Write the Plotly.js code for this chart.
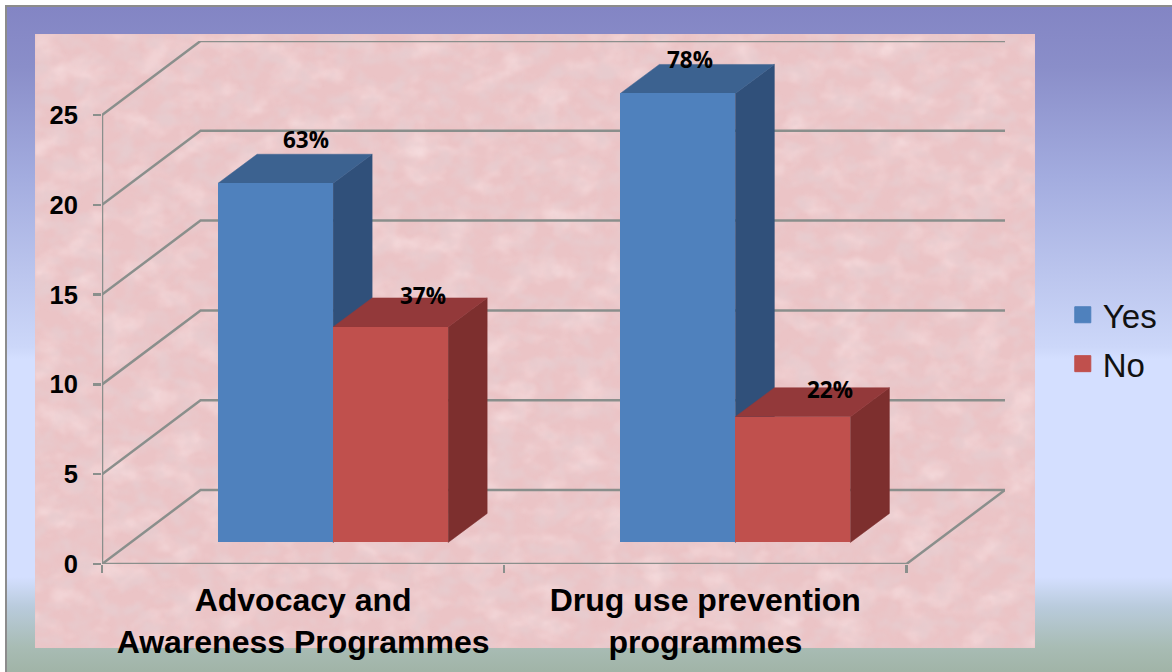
<!DOCTYPE html>
<html>
<head>
<meta charset="utf-8">
<script src="https://cdn.plot.ly/plotly-3.0.1.min.js"></script>
<style>
  html, body { margin: 0; padding: 0; background: #fff; width: 1172px; height: 672px; overflow: hidden; }
  #slide {
    position: absolute; left: 5px; top: 5px; width: 1167px; height: 667px; box-sizing: border-box;
    border-left: 2px solid #8c8c8c; border-top: 2px solid #8c8c8c;
    background: linear-gradient(to bottom,
      #8385c4 0px, #8a8ec9 60px, #a3acdf 170px, #bcc6ee 270px, #ccd7f9 340px, #d4dfff 352px,
      #d4dfff 570px, #b9cbdc 600px, #a8bcb4 640px, #a0b3a6 667px);
  }
  #panel { position: absolute; left: 35px; top: 34px; width: 1000px; height: 614px; display: block; }
  #chart { position: absolute; left: 0; top: 0; width: 1172px; height: 672px; }
</style>
</head>
<body>
<div id="slide"></div>
<svg id="panel" xmlns="http://www.w3.org/2000/svg">
  <filter id="marble" x="0" y="0" width="100%" height="100%">
    <feTurbulence type="fractalNoise" baseFrequency="0.03 0.04" numOctaves="5" seed="11"/>
    <feColorMatrix type="matrix" values="0 0 0 0 0.97  0 0 0 0 0.83  0 0 0 0 0.84  1.3 0 0 0 -0.6"/>
    <feGaussianBlur stdDeviation="0.9"/>
  </filter>
  <filter id="veins" x="0" y="0" width="100%" height="100%">
    <feTurbulence type="fractalNoise" baseFrequency="0.05 0.065" numOctaves="5" seed="4"/>
    <feColorMatrix type="matrix" values="0 0 0 0 0.80  0 0 0 0 0.60  0 0 0 0 0.62  0 2.6 0 0 -1.1"/>
    <feGaussianBlur stdDeviation="0.9"/>
  </filter>
  <rect width="1000" height="614" fill="#ebc4c6"/>
  <rect width="1000" height="614" filter="url(#marble)"/>
  <rect width="1000" height="614" filter="url(#veins)"/>
</svg>
<div id="chart"></div>
<script>
// Programme evaluation results, two answers per programme
const programmes = ['Advocacy and<br>Awareness Programmes', 'Drug use prevention<br>programmes'];
const seriesNames = ['Yes', 'No'];
const yesValues = [20, 25];
const noValues = [12, 7];
const yesLabels = ['63%', '78%'];
const noLabels = ['37%', '22%'];
const valueTicks = [0, 5, 10, 15, 20, 25];

// Colours of each box: front, top and side face
const faces = {
  Yes: { front: '#4f81bd', top: '#3c6290', side: '#30507a' },
  No:  { front: '#c0504d', top: '#93393a', side: '#7d2f2e' }
};
const gridColor = '#8a8f8c';

// Oblique projection of the box scene, in axis units
const wallDx = 0.245, wallDy = 4.12;
const barWidth = 0.286, barDx = 0.097, barDy = 1.615;
const liftDx = 0.0746, liftDy = 1.2;

const topValue = Math.max(...valueTicks);
const shapes = [];
const line = (pts) => 'M' + pts.map(p => p.join(',')).join('L');
const addLine = (pts) => shapes.push({
  type: 'path', xref: 'x', yref: 'y', layer: 'below', path: line(pts),
  line: { color: gridColor, width: 2.5 }, fillcolor: 'rgba(0,0,0,0)'
});
const addFace = (pts, color) => shapes.push({
  type: 'path', xref: 'x', yref: 'y', layer: 'below', path: line(pts) + 'Z',
  line: { color: color, width: 0.5 }, fillcolor: color
});

// Wall and floor lines, one for each value tick
const nCat = programmes.length;
valueTicks.forEach(v => addLine([[0, v], [wallDx, v + wallDy], [nCat + wallDx, v + wallDy]]));
addLine([[0, 0], [0, topValue]]);
addLine([[0, 0], [nCat, 0], [nCat + wallDx, wallDy]]);

// Front faces come from bar traces; the depth of each box is added as shapes under them
const series = [
  { name: seriesNames[0], values: yesValues, labels: yesLabels, side: -0.5, style: faces.Yes },
  { name: seriesNames[1], values: noValues, labels: noLabels, side: 0.5, style: faces.No }
];
const barCenter = (i, s) => i + 0.5 + liftDx + s.side * barWidth;
series.forEach(s => s.values.forEach((v, i) => {
  const x0 = barCenter(i, s) - barWidth / 2, x1 = x0 + barWidth, yTop = v + liftDy;
  addFace([[x1, liftDy], [x1 + barDx, liftDy + barDy], [x1 + barDx, yTop + barDy], [x1, yTop]], s.style.side);
  addFace([[x0, yTop], [x0 + barDx, yTop + barDy], [x1 + barDx, yTop + barDy], [x1, yTop]], s.style.top);
}));

const traces = [];
series.forEach(s => {
  traces.push({
    type: 'bar', name: s.name, legendgroup: s.name, showlegend: false,
    x: s.values.map((_, i) => barCenter(i, s)), y: s.values,
    base: s.values.map(() => liftDy), width: barWidth,
    marker: { color: s.style.front, line: { width: 0 } }, hoverinfo: 'skip'
  });
});
series.forEach(s => {
  traces.push({
    type: 'scatter', mode: 'markers', name: s.name, legendgroup: s.name, showlegend: true,
    x: [null], y: [null],
    marker: { symbol: 'square', size: 16, color: s.style.front, line: { color: s.style.front, width: 1 } }
  });
});

// Percentage labels sit by hand above each box: [right, up] in pixels
const labelOffsets = { Yes: [[30, 44], [12.5, 34]], No: [[32.5, 31], [37.5, 27]] };
const annotations = [];
series.forEach(s => s.values.forEach((v, i) => {
  annotations.push({
    x: barCenter(i, s), y: v + liftDy, xref: 'x', yref: 'y',
    xshift: labelOffsets[s.name][i][0], yshift: labelOffsets[s.name][i][1],
    text: '<b>' + s.labels[i] + '</b>', showarrow: false, xanchor: 'center', yanchor: 'middle',
    font: { family: 'Open Sans, Noto Sans, sans-serif', size: 22.5, color: '#000' }
  });
}));

const layout = {
  width: 1172, height: 672,
  margin: { l: 102, r: 167, t: 41, b: 108, autoexpand: false },
  paper_bgcolor: 'rgba(0,0,0,0)', plot_bgcolor: 'rgba(0,0,0,0)',
  barmode: 'overlay', bargap: 0,
  font: { family: 'Liberation Sans, Arial, sans-serif', color: '#000' },
  xaxis: {
    range: [0, nCat + wallDx], showgrid: false, zeroline: false, showline: false,
    tickmode: 'array', tickvals: programmes.map((_, i) => i + 0.5), ticktext: programmes,
    ticks: '', ticklabelstandoff: 14, tickangle: 0,
    tickfont: { size: 32, family: 'Liberation Sans, Arial, sans-serif', weight: 'bold', color: '#000' },
    minor: {
      tickmode: 'array', tickvals: programmes.map((_, i) => i).concat(nCat),
      ticks: 'outside', ticklen: 8, tickwidth: 2.5, tickcolor: gridColor, showgrid: false
    }
  },
  yaxis: {
    range: [0, topValue + wallDy], showgrid: false, zeroline: false, showline: false,
    tickmode: 'array', tickvals: valueTicks, ticks: 'outside', ticklen: 8, tickwidth: 2.5,
    tickcolor: gridColor, ticklabelstandoff: 10,
    tickfont: { size: 25.5, family: 'Liberation Sans, Arial, sans-serif', weight: 'bold', color: '#000' }
  },
  legend: {
    x: 1.064, y: 0.53, xanchor: 'left', yanchor: 'top', bgcolor: 'rgba(0,0,0,0)', borderwidth: 0,
    traceorder: 'grouped', tracegroupgap: 3, itemwidth: 30,
    font: { size: 33, family: 'Liberation Sans, Arial, sans-serif', color: '#111' }
  },
  shapes: shapes,
  annotations: annotations
};

Plotly.newPlot('chart', traces, layout, { staticPlot: true, displayModeBar: false });
</script>
</body>
</html>
